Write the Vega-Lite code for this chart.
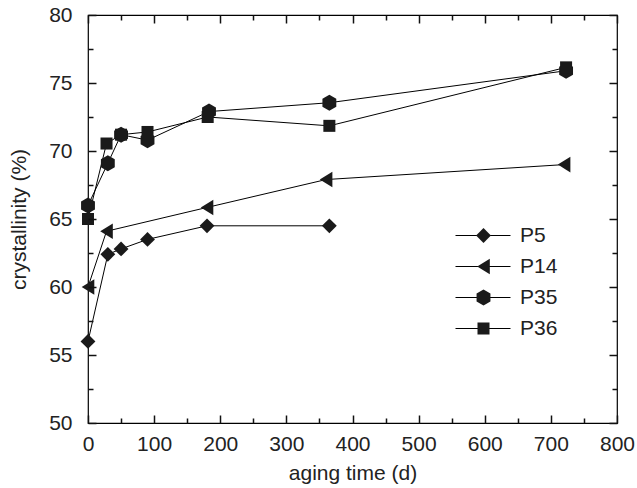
{
  "$schema": "https://vega.github.io/schema/vega-lite/v6.json",
  "width": 529,
  "height": 408,
  "autosize": "none",
  "padding": {"left": 88, "top": 15, "right": 20, "bottom": 65},
  "background": "white",
  "config": {
    "font": "Liberation Sans",
    "view": {"stroke": "black", "strokeWidth": 1.2},
    "axis": {"domain": false, "grid": false, "labelFont": "Liberation Sans", "titleFont": "Liberation Sans", "labelFontSize": 21, "titleFontSize": 21, "titleFontWeight": "normal", "labelColor": "#222", "titleColor": "#222", "tickSize": 8, "offset": -8, "labelFlush": false}
  },
  "data": {"values": [
    {"series": "P5", "t": 0, "c": 56.0},
    {"series": "P5", "t": 30, "c": 62.4},
    {"series": "P5", "t": 50, "c": 62.8},
    {"series": "P5", "t": 90, "c": 63.5},
    {"series": "P5", "t": 180, "c": 64.5},
    {"series": "P5", "t": 365, "c": 64.5},
    {"series": "P14", "t": 0, "c": 60.0},
    {"series": "P14", "t": 28, "c": 64.1},
    {"series": "P14", "t": 180, "c": 65.85},
    {"series": "P14", "t": 360, "c": 67.9},
    {"series": "P14", "t": 720, "c": 69.0},
    {"series": "P35", "t": 0, "c": 66.0},
    {"series": "P35", "t": 30, "c": 69.1},
    {"series": "P35", "t": 50, "c": 71.2},
    {"series": "P35", "t": 90, "c": 70.8},
    {"series": "P35", "t": 183, "c": 72.9},
    {"series": "P35", "t": 365, "c": 73.55},
    {"series": "P35", "t": 723, "c": 75.9},
    {"series": "P36", "t": 0, "c": 65.0},
    {"series": "P36", "t": 28, "c": 70.55},
    {"series": "P36", "t": 50, "c": 71.2},
    {"series": "P36", "t": 90, "c": 71.4},
    {"series": "P36", "t": 181, "c": 72.5},
    {"series": "P36", "t": 365, "c": 71.85},
    {"series": "P36", "t": 723, "c": 76.15}
  ]},
  "resolve": {"axis": {"x": "independent", "y": "independent"}, "legend": {"color": "independent", "shape": "independent"}},
  "layer": [
    {
      "mark": {"type": "line", "stroke": "black", "strokeWidth": 1},
      "encoding": {
        "x": {"field": "t", "type": "quantitative", "scale": {"domain": [0, 800], "nice": false},
          "axis": {"orient": "bottom", "title": "aging time (d)", "values": [0,50,100,150,200,250,300,350,400,450,500,550,600,650,700,750,800],
            "labelExpr": "datum.value % 100 === 0 ? datum.label : ''", "labelPadding": 10, "titlePadding": 8, "labelOverlap": false,
            "zindex": 1, "tickColor": "#111", "tickWidth": 1.5,
            "tickDash": {"condition": {"test": "datum.value % 100 !== 0", "value": [0, 3, 5, 40]}, "value": [8, 40]}}},
        "y": {"field": "c", "type": "quantitative", "scale": {"domain": [50, 80], "nice": false, "zero": false},
          "axis": {"orient": "left", "title": "crystallinity (%)", "values": [50,52.5,55,57.5,60,62.5,65,67.5,70,72.5,75,77.5,80],
            "labelExpr": "datum.value % 5 === 0 ? datum.label : ''", "labelPadding": 16, "titlePadding": 19, "labelOverlap": false,
            "zindex": 1, "tickColor": "#111", "tickWidth": 1.5,
            "tickDash": {"condition": {"test": "datum.value % 5 !== 0", "value": [0, 3, 5, 40]}, "value": [8, 40]}}},
        "color": {"field": "series", "type": "nominal", "sort": ["P5", "P14", "P35", "P36"],
          "scale": {"range": ["black", "black", "black", "black"]},
          "legend": {"orient": "none", "legendX": 384.5, "legendY": 210, "title": null, "symbolType": "M-2.75,0H2.75", "symbolSize": 400, "symbolStrokeWidth": 1, "symbolStrokeColor": "black", "labelFontSize": 21, "labelFont": "Liberation Sans", "labelColor": "#222", "labelOffset": 26.5, "rowPadding": 9, "padding": 0}}
      }
    },
    {
      "mark": {"type": "point", "filled": true, "fill": "#1a1a1a", "opacity": 1, "strokeWidth": 0, "size": 220},
      "encoding": {
        "x": {"field": "t", "type": "quantitative", "scale": {"domain": [0, 800], "nice": false},
          "axis": {"orient": "top", "title": null, "labels": false, "values": [0,50,100,150,200,250,300,350,400,450,500,550,600,650,700,750,800],
            "zindex": 1, "tickColor": "#111", "tickWidth": 1.5,
            "tickDash": {"condition": {"test": "datum.value % 100 !== 0", "value": [0, 3, 5, 40]}, "value": [8, 40]}}},
        "y": {"field": "c", "type": "quantitative", "scale": {"domain": [50, 80], "nice": false, "zero": false},
          "axis": {"orient": "right", "title": null, "labels": false, "values": [50,52.5,55,57.5,60,62.5,65,67.5,70,72.5,75,77.5,80],
            "zindex": 1, "tickColor": "#111", "tickWidth": 1.5,
            "tickDash": {"condition": {"test": "datum.value % 5 !== 0", "value": [0, 3, 5, 40]}, "value": [8, 40]}}},
        "shape": {"field": "series", "type": "nominal",
          "scale": {"domain": ["P5", "P14", "P35", "P36"], "range": ["M0,-1L1,0L0,1L-1,0Z", "M-0.85,0L0.85,-1.05L0.85,1.05Z", "M0,-1.08L0.935,-0.54L0.935,0.54L0,1.08L-0.935,0.54L-0.935,-0.54Z", "M-0.81,-0.81H0.81V0.81H-0.81Z"]},
          "legend": {"orient": "none", "legendX": 385, "legendY": 210, "title": null, "symbolFillColor": "#1a1a1a", "symbolStrokeWidth": 0, "symbolSize": 220, "labelExpr": "''", "labelFontSize": 21, "labelOffset": 9, "rowPadding": 9, "padding": 0}}
      }
    }
  ]
}
